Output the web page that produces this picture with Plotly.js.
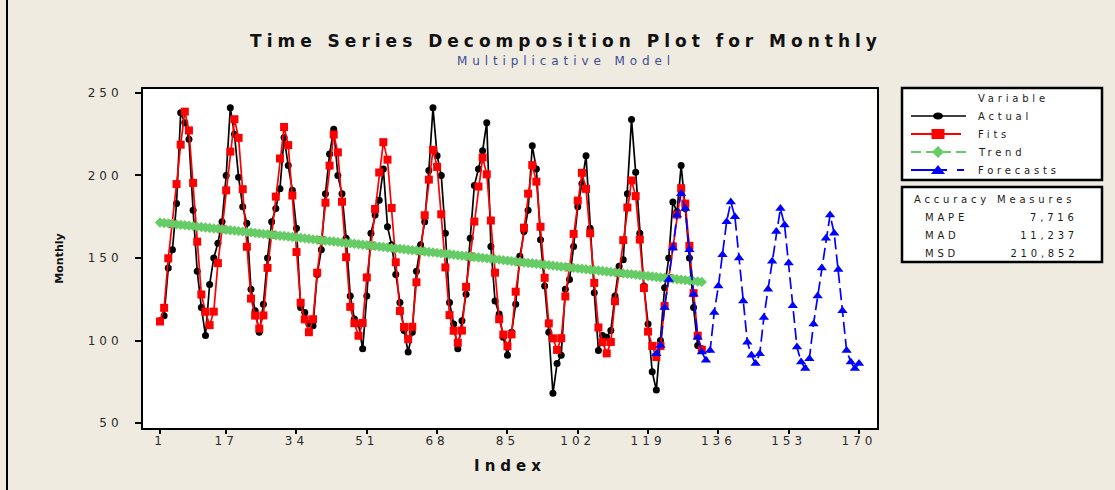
<!DOCTYPE html>
<html>
<head>
<meta charset="utf-8">
<script src="https://cdn.plot.ly/plotly-3.0.1.min.js"></script>
<style>
  html, body { margin: 0; padding: 0; background: #efebe0; }
  #chart { width: 1115px; height: 490px; }
  #chart .gtitle { letter-spacing: 5px; }
  #chart .xtick text, #chart .ytick text { letter-spacing: 4px; }
  #chart .xtitle { letter-spacing: 5px; }
  #chart .annotation-text { letter-spacing: 3.8px; }
  #chart .annotation.subtitle .annotation-text { letter-spacing: 4.9px; }
</style>
</head>
<body>
<div id="chart"></div>
<script>
// Monthly series, periods 1..132
const actual = [
  112,115,144,155,183,238,232,222,179,142,120,103,
  134,150,159,172,200,241,225,199,181,171,131,118,
  105,122,150,172,180,192,223,206,191,168,120,117,
  110,109,140,155,189,213,228,200,189,162,127,113,
  110, 95,127,165,176,185,204,169,158,140,123,106,
   93,105,142,158,172,203,241,212,200,165,123,110,
   95,112,128,162,194,204,215,232,157,124,116,102,
   91,105,122,151,166,179,218,204,161,133,105, 68,
   86, 91,131,137,157,181,195,212,168,129, 94,103,
  102,106,127,145,149,189,234,202,165,133,110, 81,
   70,100,132,150,184,178,206,180,150,120, 97, 95
];

// Fitted values of the multiplicative model
const fits = [
  111.5,119.8,149.8,170.7,194.8,218.7,238.7,227.3,195.5,159.9,127.9,117.4,
  109.3,117.5,146.9,167.4,191.0,214.5,234.1,222.8,191.7,156.8,125.4,115.1,
  107.2,115.2,144.0,164.1,187.2,210.3,229.4,218.4,187.9,153.6,122.9,112.8,
  105.0,112.9,141.1,160.8,183.5,206.0,224.8,214.0,184.1,150.5,120.4,110.5,
  102.9,110.6,138.2,157.5,179.7,201.8,220.2,209.6,180.3,147.4,117.9,108.2,
  100.8,108.3,135.3,154.2,175.9,197.5,215.5,205.2,176.5,144.3,115.4,105.9,
   98.6,106.0,132.5,150.9,172.1,193.3,210.9,200.7,172.7,141.1,112.9,103.6,
   96.5,103.7,129.6,147.6,168.4,189.0,206.3,196.3,168.9,138.0,110.4,101.3,
   94.3,101.4,126.7,144.3,164.6,184.8,201.6,191.9,165.0,134.9,107.9, 99.0,
   92.2, 99.1,123.8,141.0,160.8,180.6,197.0,187.5,161.2,131.8,105.4, 96.7,
   90.0, 96.7,120.9,137.7,157.0,176.3,192.3,183.0,157.4,128.7,102.9, 94.4
];

// Trend component
const trend = [
  171.5,171.2,171.0,170.7,170.4,170.1,169.9,169.6,169.3,169.0,168.8,168.5,
  168.2,167.9,167.7,167.4,167.1,166.8,166.6,166.3,166.0,165.7,165.5,165.2,
  164.9,164.6,164.4,164.1,163.8,163.5,163.3,163.0,162.7,162.4,162.2,161.9,
  161.6,161.3,161.1,160.8,160.5,160.2,160.0,159.7,159.4,159.1,158.9,158.6,
  158.3,158.0,157.8,157.5,157.2,156.9,156.7,156.4,156.1,155.8,155.6,155.3,
  155.0,154.7,154.5,154.2,153.9,153.6,153.4,153.1,152.8,152.5,152.3,152.0,
  151.7,151.4,151.2,150.9,150.6,150.3,150.1,149.8,149.5,149.2,149.0,148.7,
  148.4,148.1,147.9,147.6,147.3,147.0,146.8,146.5,146.2,145.9,145.7,145.4,
  145.1,144.8,144.6,144.3,144.0,143.7,143.5,143.2,142.9,142.6,142.4,142.1,
  141.8,141.5,141.3,141.0,140.7,140.4,140.2,139.9,139.6,139.3,139.1,138.8,
  138.5,138.2,138.0,137.7,137.4,137.1,136.9,136.6,136.3,136.0,135.8,135.5
];

// Forecasts for periods 121..170
const forecastStart = 121;
const forecasts = [
   92, 97,120,137,156,176,189,180,155,128,102, 93,
   88, 94,117,133,152,172,184,175,150,124, 99, 91,
   86, 92,114,131,148,166,180,170,147,121, 96, 87,
   83, 89,110,127,144,162,176,165,143,118, 94, 87,
   83, 86
];

const xTicks = [1, 17, 34, 51, 68, 85, 102, 119, 136, 153, 170];
const yTicks = [50, 100, 150, 200, 250];

const seriesNames = ['Actual', 'Fits', 'Trend', 'Forecasts'];
const accuracyNames = ['MAPE', 'MAD', 'MSD'];
const accuracyValues = ['7,716', '11,237', '210,852'];

const periods = actual.map((_, i) => i + 1);
const forecastPeriods = forecasts.map((_, i) => forecastStart + i);

const BLACK = '#000000', RED = '#ff0000', GREEN = '#66cc66', BLUE = '#0000ff';
const FONT = 'DejaVu Sans, Arial, sans-serif';

const traces = [
  { x: periods, y: actual, name: seriesNames[0], mode: 'lines+markers',
    line: { color: BLACK, width: 1.7 },
    marker: { symbol: 'circle', size: 7, color: BLACK } },
  { x: periods, y: fits, name: seriesNames[1], mode: 'lines+markers',
    line: { color: RED, width: 1.7 },
    marker: { symbol: 'square', size: 8, color: RED } },
  { x: periods, y: trend, name: seriesNames[2], mode: 'lines+markers',
    line: { color: GREEN, width: 1.7, dash: '8px,5px' },
    marker: { symbol: 'diamond', size: 8, color: GREEN } },
  { x: forecastPeriods, y: forecasts, name: seriesNames[3], mode: 'lines+markers',
    line: { color: BLUE, width: 1.7, dash: '12px,5px' },
    marker: { symbol: 'triangle-up', size: 9, color: BLUE } }
];

// Plot area sits at x 143..877, y 89..428 of the 1115x490 page
const L = 143, R = 877, T = 89, B = 428;
const px = v => (v - L) / (R - L);
const py = v => (B - v) / (B - T);

const shapes = [
  // outer frame edge
  { type: 'line', xref: 'paper', yref: 'paper', x0: px(7), x1: px(7), y0: py(-5), y1: py(495),
    line: { color: BLACK, width: 2 } },
  // legend boxes
  { type: 'rect', xref: 'paper', yref: 'paper', x0: px(902), x1: px(1102), y0: py(180), y1: py(88),
    fillcolor: '#ffffff', line: { color: BLACK, width: 2.5 } },
  { type: 'rect', xref: 'paper', yref: 'paper', x0: px(902), x1: px(1102), y0: py(262), y1: py(187),
    fillcolor: '#ffffff', line: { color: BLACK, width: 2.5 } },
  // legend keys
  { type: 'line', xref: 'paper', yref: 'paper', x0: px(911), x1: px(966), y0: py(116), y1: py(116),
    line: { color: BLACK, width: 1.5 } },
  { type: 'circle', xref: 'paper', yref: 'paper', xsizemode: 'pixel', ysizemode: 'pixel',
    xanchor: px(938), yanchor: py(116), x0: -5, x1: 5, y0: -3.5, y1: 3.5,
    fillcolor: BLACK, line: { width: 0 } },
  { type: 'line', xref: 'paper', yref: 'paper', x0: px(911), x1: px(961), y0: py(134), y1: py(134),
    line: { color: RED, width: 2 } },
  { type: 'rect', xref: 'paper', yref: 'paper', xsizemode: 'pixel', ysizemode: 'pixel',
    xanchor: px(938), yanchor: py(134), x0: -6.5, x1: 6.5, y0: -5, y1: 5,
    fillcolor: RED, line: { width: 0 } },
  { type: 'line', xref: 'paper', yref: 'paper', x0: px(911), x1: px(966), y0: py(152), y1: py(152),
    line: { color: GREEN, width: 2, dash: '10px,5px' } },
  { type: 'path', xref: 'paper', yref: 'paper', xsizemode: 'pixel', ysizemode: 'pixel',
    xanchor: px(938), yanchor: py(152), path: 'M -6 0 L 0 6 L 6 0 L 0 -6 Z',
    fillcolor: GREEN, line: { width: 0 } },
  { type: 'line', xref: 'paper', yref: 'paper', x0: px(911), x1: px(947), y0: py(170), y1: py(170),
    line: { color: BLUE, width: 2 } },
  { type: 'line', xref: 'paper', yref: 'paper', x0: px(957), x1: px(964), y0: py(170), y1: py(170),
    line: { color: BLUE, width: 2 } },
  { type: 'path', xref: 'paper', yref: 'paper', xsizemode: 'pixel', ysizemode: 'pixel',
    xanchor: px(938), yanchor: py(170), path: 'M -7 -4 L 7 -4 L 0 5 Z',
    fillcolor: BLUE, line: { width: 0 } }
];

const textFont = { family: FONT, size: 10, color: '#1a1a1a' };
const note = (text, x, y, anchor) => ({
  text, x: px(x), y: py(y), xref: 'paper', yref: 'paper',
  xanchor: anchor, yanchor: 'middle', align: anchor, showarrow: false, font: textFont
});

const annotations = [
  // subtitle under the main title
  { text: 'Multiplicative Model', x: px(566), y: py(61), xref: 'paper', yref: 'paper',
    xanchor: 'center', yanchor: 'middle', showarrow: false,
    font: { family: FONT, size: 12, color: '#3d4d95' } },
  note('Variable', 976, 99, 'left'),
  note(seriesNames[0], 976, 116, 'left'),
  note(seriesNames[1], 976, 134, 'left'),
  note(seriesNames[2], 976, 152, 'left'),
  note(seriesNames[3], 976, 170, 'left'),
  note('Accuracy Measures', 912, 199, 'left'),
  note(accuracyNames[0], 923, 217, 'left'),
  note(accuracyNames[1], 923, 235, 'left'),
  note(accuracyNames[2], 923, 253, 'left'),
  note(accuracyValues[0], 1080, 217, 'right'),
  note(accuracyValues[1], 1080, 235, 'right'),
  note(accuracyValues[2], 1080, 253, 'right')
];

const axisCommon = {
  showgrid: false, zeroline: false, showline: true, mirror: true,
  linecolor: BLACK, linewidth: 2,
  ticks: 'outside', tickwidth: 2, tickcolor: BLACK,
  tickfont: { family: FONT, size: 12, color: '#2a2a2a' }
};

const layout = {
  width: 1115, height: 490,
  paper_bgcolor: '#efebe0', plot_bgcolor: '#ffffff',
  margin: { l: L, r: 1115 - R, t: T, b: 490 - B },
  showlegend: false,
  title: {
    text: 'Time Series Decomposition Plot for Monthly',
    font: { family: FONT, size: 17, weight: 'bold', color: '#111111' },
    xref: 'container', x: 566 / 1115, xanchor: 'center',
    yref: 'container', y: 1 - 41 / 490, yanchor: 'middle'
  },
  xaxis: Object.assign({}, axisCommon, {
    range: [-3.11, 174.35], tickvals: xTicks, ticktext: xTicks.map(String),
    ticklen: 4, ticklabelstandoff: -3,
    title: { text: 'Index', font: { family: FONT, size: 15, weight: 'bold', color: '#111111' }, standoff: 13 }
  }),
  yaxis: Object.assign({}, axisCommon, {
    range: [46.97, 252.42], tickvals: yTicks, ticktext: yTicks.map(String),
    ticklen: 6, ticklabelstandoff: 10,
    title: { text: 'Monthly', font: { family: FONT, size: 11, weight: 'bold', color: '#111111' }, standoff: 34 }
  }),
  shapes, annotations
};

Plotly.newPlot('chart', traces, layout, { displayModeBar: false, staticPlot: true }).then(gd => {
  // the first annotation is the subtitle; give it its own letter spacing
  const first = gd.querySelector('.annotation');
  if (first) first.classList.add('subtitle');
});
</script>
</body>
</html>
